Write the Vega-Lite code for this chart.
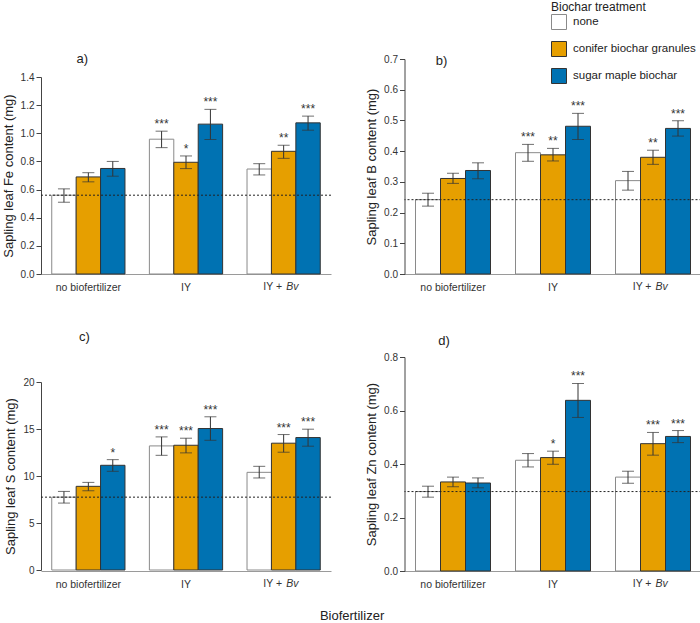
{
  "$schema": "https://vega.github.io/schema/vega-lite/v6.json",
  "padding": {"left": 2, "top": 2, "right": 0, "bottom": 1},
  "datasets": {
    "fe": [
      {"group": "no biofertilizer", "treatment": "none", "value": 0.56, "lo": 0.51, "hi": 0.605, "sig": ""},
      {"group": "no biofertilizer", "treatment": "conifer biochar granules", "value": 0.69, "lo": 0.655, "hi": 0.72, "sig": ""},
      {"group": "no biofertilizer", "treatment": "sugar maple biochar", "value": 0.75, "lo": 0.695, "hi": 0.8, "sig": ""},
      {"group": "IY", "treatment": "none", "value": 0.958, "lo": 0.898, "hi": 1.015, "sig": "***"},
      {"group": "IY", "treatment": "conifer biochar granules", "value": 0.794, "lo": 0.749, "hi": 0.839, "sig": "*"},
      {"group": "IY", "treatment": "sugar maple biochar", "value": 1.065, "lo": 0.956, "hi": 1.17, "sig": "***"},
      {"group": "IY + Bv", "treatment": "none", "value": 0.746, "lo": 0.704, "hi": 0.784, "sig": ""},
      {"group": "IY + Bv", "treatment": "conifer biochar granules", "value": 0.872, "lo": 0.822, "hi": 0.915, "sig": "**"},
      {"group": "IY + Bv", "treatment": "sugar maple biochar", "value": 1.074, "lo": 1.022, "hi": 1.122, "sig": "***"}
    ],
    "b": [
      {"group": "no biofertilizer", "treatment": "none", "value": 0.242, "lo": 0.221, "hi": 0.263, "sig": ""},
      {"group": "no biofertilizer", "treatment": "conifer biochar granules", "value": 0.311, "lo": 0.295, "hi": 0.328, "sig": ""},
      {"group": "no biofertilizer", "treatment": "sugar maple biochar", "value": 0.337, "lo": 0.31, "hi": 0.362, "sig": ""},
      {"group": "IY", "treatment": "none", "value": 0.395, "lo": 0.367, "hi": 0.422, "sig": "***"},
      {"group": "IY", "treatment": "conifer biochar granules", "value": 0.388, "lo": 0.368, "hi": 0.409, "sig": "**"},
      {"group": "IY", "treatment": "sugar maple biochar", "value": 0.481, "lo": 0.438, "hi": 0.523, "sig": "***"},
      {"group": "IY + Bv", "treatment": "none", "value": 0.304, "lo": 0.273, "hi": 0.334, "sig": ""},
      {"group": "IY + Bv", "treatment": "conifer biochar granules", "value": 0.38, "lo": 0.357, "hi": 0.403, "sig": "**"},
      {"group": "IY + Bv", "treatment": "sugar maple biochar", "value": 0.474, "lo": 0.449, "hi": 0.499, "sig": "***"}
    ],
    "s": [
      {"group": "no biofertilizer", "treatment": "none", "value": 7.75, "lo": 7.12, "hi": 8.36, "sig": ""},
      {"group": "no biofertilizer", "treatment": "conifer biochar granules", "value": 8.9, "lo": 8.43, "hi": 9.32, "sig": ""},
      {"group": "no biofertilizer", "treatment": "sugar maple biochar", "value": 11.14, "lo": 10.5, "hi": 11.74, "sig": "*"},
      {"group": "IY", "treatment": "none", "value": 13.2, "lo": 12.2, "hi": 14.16, "sig": "***"},
      {"group": "IY", "treatment": "conifer biochar granules", "value": 13.27, "lo": 12.46, "hi": 14.02, "sig": "***"},
      {"group": "IY", "treatment": "sugar maple biochar", "value": 15.05, "lo": 13.8, "hi": 16.3, "sig": "***"},
      {"group": "IY + Bv", "treatment": "none", "value": 10.39, "lo": 9.79, "hi": 11.03, "sig": ""},
      {"group": "IY + Bv", "treatment": "conifer biochar granules", "value": 13.49, "lo": 12.53, "hi": 14.41, "sig": "***"},
      {"group": "IY + Bv", "treatment": "sugar maple biochar", "value": 14.09, "lo": 13.17, "hi": 14.98, "sig": "***"}
    ],
    "zn": [
      {"group": "no biofertilizer", "treatment": "none", "value": 0.297, "lo": 0.276, "hi": 0.317, "sig": ""},
      {"group": "no biofertilizer", "treatment": "conifer biochar granules", "value": 0.333, "lo": 0.315, "hi": 0.351, "sig": ""},
      {"group": "no biofertilizer", "treatment": "sugar maple biochar", "value": 0.329, "lo": 0.311, "hi": 0.348, "sig": ""},
      {"group": "IY", "treatment": "none", "value": 0.414, "lo": 0.389, "hi": 0.439, "sig": ""},
      {"group": "IY", "treatment": "conifer biochar granules", "value": 0.424, "lo": 0.399, "hi": 0.448, "sig": "*"},
      {"group": "IY", "treatment": "sugar maple biochar", "value": 0.638, "lo": 0.574, "hi": 0.701, "sig": "***"},
      {"group": "IY + Bv", "treatment": "none", "value": 0.351, "lo": 0.328, "hi": 0.373, "sig": ""},
      {"group": "IY + Bv", "treatment": "conifer biochar granules", "value": 0.476, "lo": 0.433, "hi": 0.518, "sig": "***"},
      {"group": "IY + Bv", "treatment": "sugar maple biochar", "value": 0.503, "lo": 0.48, "hi": 0.525, "sig": "***"}
    ],
    "xlab": [
      {"group": "IY + Bv", "first": "IY +", "second": "Bv"}
    ],
    "pa": [{"group": "no biofertilizer", "label": "a)"}],
    "pb": [{"group": "no biofertilizer", "label": "b)"}],
    "pc": [{"group": "no biofertilizer", "label": "c)"}],
    "pd": [{"group": "no biofertilizer", "label": "d)"}]
  },
  "title": {"text": "Biofertilizer", "orient": "bottom", "anchor": "middle", "fontSize": 13, "offset": 20},
  "columns": 2,
  "bounds": "flush",
  "align": "each",
  "spacing": {"row": 83, "column": 73.5},
  "concat": [
    {
      "width": 290, "height": 215,
      "data": {"name": "fe"},
      "layer": [
        {
          "mark": {"type": "bar", "strokeWidth": 1},
          "encoding": {
            "x": {"field": "group", "type": "nominal", "scale": {"domain": ["no biofertilizer", "IY", "IY + Bv"], "paddingInner": 0.25, "paddingOuter": 0.11}, "axis": {"title": null, "labelExpr": "datum.value == 'IY + Bv' ? '' : datum.value"}},
            "xOffset": {"field": "treatment", "type": "nominal", "scale": {"domain": ["none", "conifer biochar granules", "sugar maple biochar"], "paddingInner": 0, "paddingOuter": 0}},
            "y": {"field": "value", "type": "quantitative", "scale": {"domain": [0, 1.4], "range": [215, 18]}, "axis": {"title": "Sapling leaf Fe content (mg)", "values": [0, 0.2, 0.4, 0.6, 0.8, 1.0, 1.2, 1.4], "format": ".1f", "labelOverlap": false}},
            "color": {"field": "treatment", "type": "nominal", "title": "Biochar treatment", "scale": {"domain": ["none", "conifer biochar granules", "sugar maple biochar"], "range": ["#ffffff", "#e69f00", "#0072b2"]}, "legend": {"orient": "none", "legendX": 510, "legendY": -57}},
            "stroke": {"field": "treatment", "type": "nominal", "scale": {"domain": ["none", "conifer biochar granules", "sugar maple biochar"], "range": ["#8a8a8a", "#333333", "#333333"]}, "legend": null}
          }
        },
        {
          "mark": {"type": "rule", "color": "#333", "strokeWidth": 1},
          "encoding": {
            "x": {"field": "group", "type": "nominal"},
            "xOffset": {"field": "treatment", "type": "nominal"},
            "y": {"field": "lo", "type": "quantitative", "axis": {"title": "Sapling leaf Fe content (mg)", "values": [0, 0.2, 0.4, 0.6, 0.8, 1.0, 1.2, 1.4], "format": ".1f", "labelOverlap": false}},
            "y2": {"field": "hi"}
          }
        },
        {
          "mark": {"type": "tick", "color": "#333", "thickness": 1, "size": 12, "orient": "horizontal"},
          "encoding": {
            "x": {"field": "group", "type": "nominal"},
            "xOffset": {"field": "treatment", "type": "nominal"},
            "y": {"field": "lo", "type": "quantitative", "axis": {"title": "Sapling leaf Fe content (mg)", "values": [0, 0.2, 0.4, 0.6, 0.8, 1.0, 1.2, 1.4], "format": ".1f", "labelOverlap": false}}
          }
        },
        {
          "mark": {"type": "tick", "color": "#333", "thickness": 1, "size": 12, "orient": "horizontal"},
          "encoding": {
            "x": {"field": "group", "type": "nominal"},
            "xOffset": {"field": "treatment", "type": "nominal"},
            "y": {"field": "hi", "type": "quantitative", "axis": {"title": "Sapling leaf Fe content (mg)", "values": [0, 0.2, 0.4, 0.6, 0.8, 1.0, 1.2, 1.4], "format": ".1f", "labelOverlap": false}}
          }
        },
        {
          "mark": {"type": "text", "fontSize": 12, "color": "#333", "baseline": "alphabetic", "dy": -3},
          "encoding": {
            "x": {"field": "group", "type": "nominal"},
            "xOffset": {"field": "treatment", "type": "nominal"},
            "y": {"field": "hi", "type": "quantitative", "axis": {"title": "Sapling leaf Fe content (mg)", "values": [0, 0.2, 0.4, 0.6, 0.8, 1.0, 1.2, 1.4], "format": ".1f", "labelOverlap": false}},
            "text": {"field": "sig"}
          }
        },
        {
          "transform": [{"filter": "datum.group == 'no biofertilizer' && datum.treatment == 'none'"}],
          "mark": {"type": "rule", "color": "#222", "strokeDash": [2, 2], "strokeWidth": 1},
          "encoding": {"y": {"field": "value", "type": "quantitative", "axis": {"title": "Sapling leaf Fe content (mg)", "values": [0, 0.2, 0.4, 0.6, 0.8, 1.0, 1.2, 1.4], "format": ".1f", "labelOverlap": false}}}
        },
        {
          "data": {"name": "xlab"},
          "mark": {"type": "text", "align": "right", "baseline": "top", "dx": -1.5, "dy": 8, "fontSize": 10.5, "color": "#333"},
          "encoding": {"x": {"field": "group", "type": "nominal"}, "y": {"datum": 0, "axis": {"title": "Sapling leaf Fe content (mg)", "values": [0, 0.2, 0.4, 0.6, 0.8, 1.0, 1.2, 1.4], "format": ".1f", "labelOverlap": false}}, "text": {"field": "first"}}
        },
        {
          "data": {"name": "xlab"},
          "mark": {"type": "text", "align": "left", "baseline": "top", "dx": 2.5, "dy": 8, "fontSize": 10.5, "fontStyle": "italic", "color": "#333"},
          "encoding": {"x": {"field": "group", "type": "nominal"}, "y": {"datum": 0, "axis": {"title": "Sapling leaf Fe content (mg)", "values": [0, 0.2, 0.4, 0.6, 0.8, 1.0, 1.2, 1.4], "format": ".1f", "labelOverlap": false}}, "text": {"field": "second"}}
        },
        {
          "data": {"name": "pa"},
          "mark": {"type": "text", "align": "center", "baseline": "alphabetic", "dx": -6, "dy": -14, "fontSize": 13, "color": "#222"},
          "encoding": {"x": {"field": "group", "type": "nominal"}, "y": {"datum": 1.4, "axis": {"title": "Sapling leaf Fe content (mg)", "values": [0, 0.2, 0.4, 0.6, 0.8, 1.0, 1.2, 1.4], "format": ".1f", "labelOverlap": false}}, "text": {"field": "label"}}
        }
      ]
    },
    {
      "width": 297, "height": 215,
      "data": {"name": "b"},
      "layer": [
        {
          "mark": {"type": "bar", "strokeWidth": 1},
          "encoding": {
            "x": {"field": "group", "type": "nominal", "scale": {"domain": ["no biofertilizer", "IY", "IY + Bv"], "paddingInner": 0.25, "paddingOuter": 0.11}, "axis": {"title": null, "labelExpr": "datum.value == 'IY + Bv' ? '' : datum.value"}},
            "xOffset": {"field": "treatment", "type": "nominal", "scale": {"domain": ["none", "conifer biochar granules", "sugar maple biochar"], "paddingInner": 0, "paddingOuter": 0}},
            "y": {"field": "value", "type": "quantitative", "scale": {"domain": [0, 0.7], "range": [215, 0]}, "axis": {"title": "Sapling leaf B content (mg)", "values": [0, 0.1, 0.2, 0.3, 0.4, 0.5, 0.6, 0.7], "format": ".1f", "labelOverlap": false}},
            "color": {"field": "treatment", "type": "nominal", "title": "Biochar treatment", "scale": {"domain": ["none", "conifer biochar granules", "sugar maple biochar"], "range": ["#ffffff", "#e69f00", "#0072b2"]}, "legend": {"orient": "none", "legendX": 510, "legendY": -57}},
            "stroke": {"field": "treatment", "type": "nominal", "scale": {"domain": ["none", "conifer biochar granules", "sugar maple biochar"], "range": ["#8a8a8a", "#333333", "#333333"]}, "legend": null}
          }
        },
        {
          "mark": {"type": "rule", "color": "#333", "strokeWidth": 1},
          "encoding": {
            "x": {"field": "group", "type": "nominal"},
            "xOffset": {"field": "treatment", "type": "nominal"},
            "y": {"field": "lo", "type": "quantitative", "axis": {"title": "Sapling leaf B content (mg)", "values": [0, 0.1, 0.2, 0.3, 0.4, 0.5, 0.6, 0.7], "format": ".1f", "labelOverlap": false}},
            "y2": {"field": "hi"}
          }
        },
        {
          "mark": {"type": "tick", "color": "#333", "thickness": 1, "size": 12, "orient": "horizontal"},
          "encoding": {
            "x": {"field": "group", "type": "nominal"},
            "xOffset": {"field": "treatment", "type": "nominal"},
            "y": {"field": "lo", "type": "quantitative", "axis": {"title": "Sapling leaf B content (mg)", "values": [0, 0.1, 0.2, 0.3, 0.4, 0.5, 0.6, 0.7], "format": ".1f", "labelOverlap": false}}
          }
        },
        {
          "mark": {"type": "tick", "color": "#333", "thickness": 1, "size": 12, "orient": "horizontal"},
          "encoding": {
            "x": {"field": "group", "type": "nominal"},
            "xOffset": {"field": "treatment", "type": "nominal"},
            "y": {"field": "hi", "type": "quantitative", "axis": {"title": "Sapling leaf B content (mg)", "values": [0, 0.1, 0.2, 0.3, 0.4, 0.5, 0.6, 0.7], "format": ".1f", "labelOverlap": false}}
          }
        },
        {
          "mark": {"type": "text", "fontSize": 12, "color": "#333", "baseline": "alphabetic", "dy": -3},
          "encoding": {
            "x": {"field": "group", "type": "nominal"},
            "xOffset": {"field": "treatment", "type": "nominal"},
            "y": {"field": "hi", "type": "quantitative", "axis": {"title": "Sapling leaf B content (mg)", "values": [0, 0.1, 0.2, 0.3, 0.4, 0.5, 0.6, 0.7], "format": ".1f", "labelOverlap": false}},
            "text": {"field": "sig"}
          }
        },
        {
          "transform": [{"filter": "datum.group == 'no biofertilizer' && datum.treatment == 'none'"}],
          "mark": {"type": "rule", "color": "#222", "strokeDash": [2, 2], "strokeWidth": 1},
          "encoding": {"y": {"field": "value", "type": "quantitative", "axis": {"title": "Sapling leaf B content (mg)", "values": [0, 0.1, 0.2, 0.3, 0.4, 0.5, 0.6, 0.7], "format": ".1f", "labelOverlap": false}}}
        },
        {
          "data": {"name": "xlab"},
          "mark": {"type": "text", "align": "right", "baseline": "top", "dx": -1.5, "dy": 8, "fontSize": 10.5, "color": "#333"},
          "encoding": {"x": {"field": "group", "type": "nominal"}, "y": {"datum": 0, "axis": {"title": "Sapling leaf B content (mg)", "values": [0, 0.1, 0.2, 0.3, 0.4, 0.5, 0.6, 0.7], "format": ".1f", "labelOverlap": false}}, "text": {"field": "first"}}
        },
        {
          "data": {"name": "xlab"},
          "mark": {"type": "text", "align": "left", "baseline": "top", "dx": 2.5, "dy": 8, "fontSize": 10.5, "fontStyle": "italic", "color": "#333"},
          "encoding": {"x": {"field": "group", "type": "nominal"}, "y": {"datum": 0, "axis": {"title": "Sapling leaf B content (mg)", "values": [0, 0.1, 0.2, 0.3, 0.4, 0.5, 0.6, 0.7], "format": ".1f", "labelOverlap": false}}, "text": {"field": "second"}}
        },
        {
          "data": {"name": "pb"},
          "mark": {"type": "text", "align": "center", "baseline": "alphabetic", "dx": -11.5, "dy": 6, "fontSize": 13, "color": "#222"},
          "encoding": {"x": {"field": "group", "type": "nominal"}, "y": {"datum": 0.7, "axis": {"title": "Sapling leaf B content (mg)", "values": [0, 0.1, 0.2, 0.3, 0.4, 0.5, 0.6, 0.7], "format": ".1f", "labelOverlap": false}}, "text": {"field": "label"}}
        }
      ]
    },
    {
      "width": 290, "height": 214,
      "data": {"name": "s"},
      "layer": [
        {
          "mark": {"type": "bar", "strokeWidth": 1},
          "encoding": {
            "x": {"field": "group", "type": "nominal", "scale": {"domain": ["no biofertilizer", "IY", "IY + Bv"], "paddingInner": 0.25, "paddingOuter": 0.11}, "axis": {"title": null, "labelExpr": "datum.value == 'IY + Bv' ? '' : datum.value"}},
            "xOffset": {"field": "treatment", "type": "nominal", "scale": {"domain": ["none", "conifer biochar granules", "sugar maple biochar"], "paddingInner": 0, "paddingOuter": 0}},
            "y": {"field": "value", "type": "quantitative", "scale": {"domain": [0, 20], "range": [213, 25]}, "axis": {"title": "Sapling leaf S content (mg)", "values": [0, 5, 10, 15, 20], "format": "d", "labelOverlap": false}},
            "color": {"field": "treatment", "type": "nominal", "title": "Biochar treatment", "scale": {"domain": ["none", "conifer biochar granules", "sugar maple biochar"], "range": ["#ffffff", "#e69f00", "#0072b2"]}, "legend": {"orient": "none", "legendX": 510, "legendY": -57}},
            "stroke": {"field": "treatment", "type": "nominal", "scale": {"domain": ["none", "conifer biochar granules", "sugar maple biochar"], "range": ["#8a8a8a", "#333333", "#333333"]}, "legend": null}
          }
        },
        {
          "mark": {"type": "rule", "color": "#333", "strokeWidth": 1},
          "encoding": {
            "x": {"field": "group", "type": "nominal"},
            "xOffset": {"field": "treatment", "type": "nominal"},
            "y": {"field": "lo", "type": "quantitative", "axis": {"title": "Sapling leaf S content (mg)", "values": [0, 5, 10, 15, 20], "format": "d", "labelOverlap": false}},
            "y2": {"field": "hi"}
          }
        },
        {
          "mark": {"type": "tick", "color": "#333", "thickness": 1, "size": 12, "orient": "horizontal"},
          "encoding": {
            "x": {"field": "group", "type": "nominal"},
            "xOffset": {"field": "treatment", "type": "nominal"},
            "y": {"field": "lo", "type": "quantitative", "axis": {"title": "Sapling leaf S content (mg)", "values": [0, 5, 10, 15, 20], "format": "d", "labelOverlap": false}}
          }
        },
        {
          "mark": {"type": "tick", "color": "#333", "thickness": 1, "size": 12, "orient": "horizontal"},
          "encoding": {
            "x": {"field": "group", "type": "nominal"},
            "xOffset": {"field": "treatment", "type": "nominal"},
            "y": {"field": "hi", "type": "quantitative", "axis": {"title": "Sapling leaf S content (mg)", "values": [0, 5, 10, 15, 20], "format": "d", "labelOverlap": false}}
          }
        },
        {
          "mark": {"type": "text", "fontSize": 12, "color": "#333", "baseline": "alphabetic", "dy": -3},
          "encoding": {
            "x": {"field": "group", "type": "nominal"},
            "xOffset": {"field": "treatment", "type": "nominal"},
            "y": {"field": "hi", "type": "quantitative", "axis": {"title": "Sapling leaf S content (mg)", "values": [0, 5, 10, 15, 20], "format": "d", "labelOverlap": false}},
            "text": {"field": "sig"}
          }
        },
        {
          "transform": [{"filter": "datum.group == 'no biofertilizer' && datum.treatment == 'none'"}],
          "mark": {"type": "rule", "color": "#222", "strokeDash": [2, 2], "strokeWidth": 1},
          "encoding": {"y": {"field": "value", "type": "quantitative", "axis": {"title": "Sapling leaf S content (mg)", "values": [0, 5, 10, 15, 20], "format": "d", "labelOverlap": false}}}
        },
        {
          "data": {"name": "xlab"},
          "mark": {"type": "text", "align": "right", "baseline": "top", "dx": -1.5, "dy": 9, "fontSize": 10.5, "color": "#333"},
          "encoding": {"x": {"field": "group", "type": "nominal"}, "y": {"datum": 0, "axis": {"title": "Sapling leaf S content (mg)", "values": [0, 5, 10, 15, 20], "format": "d", "labelOverlap": false}}, "text": {"field": "first"}}
        },
        {
          "data": {"name": "xlab"},
          "mark": {"type": "text", "align": "left", "baseline": "top", "dx": 2.5, "dy": 9, "fontSize": 10.5, "fontStyle": "italic", "color": "#333"},
          "encoding": {"x": {"field": "group", "type": "nominal"}, "y": {"datum": 0, "axis": {"title": "Sapling leaf S content (mg)", "values": [0, 5, 10, 15, 20], "format": "d", "labelOverlap": false}}, "text": {"field": "second"}}
        },
        {
          "data": {"name": "pc"},
          "mark": {"type": "text", "align": "center", "baseline": "alphabetic", "dx": -4, "dy": -41, "fontSize": 13, "color": "#222"},
          "encoding": {"x": {"field": "group", "type": "nominal"}, "y": {"datum": 20, "axis": {"title": "Sapling leaf S content (mg)", "values": [0, 5, 10, 15, 20], "format": "d", "labelOverlap": false}}, "text": {"field": "label"}}
        }
      ]
    },
    {
      "width": 297, "height": 214,
      "data": {"name": "zn"},
      "layer": [
        {
          "mark": {"type": "bar", "strokeWidth": 1},
          "encoding": {
            "x": {"field": "group", "type": "nominal", "scale": {"domain": ["no biofertilizer", "IY", "IY + Bv"], "paddingInner": 0.25, "paddingOuter": 0.11}, "axis": {"title": null, "labelExpr": "datum.value == 'IY + Bv' ? '' : datum.value"}},
            "xOffset": {"field": "treatment", "type": "nominal", "scale": {"domain": ["none", "conifer biochar granules", "sugar maple biochar"], "paddingInner": 0, "paddingOuter": 0}},
            "y": {"field": "value", "type": "quantitative", "scale": {"domain": [0, 0.8], "range": [214, 0]}, "axis": {"title": "Sapling leaf Zn content (mg)", "values": [0, 0.2, 0.4, 0.6, 0.8], "format": ".1f", "labelOverlap": false}},
            "color": {"field": "treatment", "type": "nominal", "title": "Biochar treatment", "scale": {"domain": ["none", "conifer biochar granules", "sugar maple biochar"], "range": ["#ffffff", "#e69f00", "#0072b2"]}, "legend": {"orient": "none", "legendX": 510, "legendY": -57}},
            "stroke": {"field": "treatment", "type": "nominal", "scale": {"domain": ["none", "conifer biochar granules", "sugar maple biochar"], "range": ["#8a8a8a", "#333333", "#333333"]}, "legend": null}
          }
        },
        {
          "mark": {"type": "rule", "color": "#333", "strokeWidth": 1},
          "encoding": {
            "x": {"field": "group", "type": "nominal"},
            "xOffset": {"field": "treatment", "type": "nominal"},
            "y": {"field": "lo", "type": "quantitative", "axis": {"title": "Sapling leaf Zn content (mg)", "values": [0, 0.2, 0.4, 0.6, 0.8], "format": ".1f", "labelOverlap": false}},
            "y2": {"field": "hi"}
          }
        },
        {
          "mark": {"type": "tick", "color": "#333", "thickness": 1, "size": 12, "orient": "horizontal"},
          "encoding": {
            "x": {"field": "group", "type": "nominal"},
            "xOffset": {"field": "treatment", "type": "nominal"},
            "y": {"field": "lo", "type": "quantitative", "axis": {"title": "Sapling leaf Zn content (mg)", "values": [0, 0.2, 0.4, 0.6, 0.8], "format": ".1f", "labelOverlap": false}}
          }
        },
        {
          "mark": {"type": "tick", "color": "#333", "thickness": 1, "size": 12, "orient": "horizontal"},
          "encoding": {
            "x": {"field": "group", "type": "nominal"},
            "xOffset": {"field": "treatment", "type": "nominal"},
            "y": {"field": "hi", "type": "quantitative", "axis": {"title": "Sapling leaf Zn content (mg)", "values": [0, 0.2, 0.4, 0.6, 0.8], "format": ".1f", "labelOverlap": false}}
          }
        },
        {
          "mark": {"type": "text", "fontSize": 12, "color": "#333", "baseline": "alphabetic", "dy": -3},
          "encoding": {
            "x": {"field": "group", "type": "nominal"},
            "xOffset": {"field": "treatment", "type": "nominal"},
            "y": {"field": "hi", "type": "quantitative", "axis": {"title": "Sapling leaf Zn content (mg)", "values": [0, 0.2, 0.4, 0.6, 0.8], "format": ".1f", "labelOverlap": false}},
            "text": {"field": "sig"}
          }
        },
        {
          "transform": [{"filter": "datum.group == 'no biofertilizer' && datum.treatment == 'none'"}],
          "mark": {"type": "rule", "color": "#222", "strokeDash": [2, 2], "strokeWidth": 1},
          "encoding": {"y": {"field": "value", "type": "quantitative", "axis": {"title": "Sapling leaf Zn content (mg)", "values": [0, 0.2, 0.4, 0.6, 0.8], "format": ".1f", "labelOverlap": false}}}
        },
        {
          "data": {"name": "xlab"},
          "mark": {"type": "text", "align": "right", "baseline": "top", "dx": -1.5, "dy": 8, "fontSize": 10.5, "color": "#333"},
          "encoding": {"x": {"field": "group", "type": "nominal"}, "y": {"datum": 0, "axis": {"title": "Sapling leaf Zn content (mg)", "values": [0, 0.2, 0.4, 0.6, 0.8], "format": ".1f", "labelOverlap": false}}, "text": {"field": "first"}}
        },
        {
          "data": {"name": "xlab"},
          "mark": {"type": "text", "align": "left", "baseline": "top", "dx": 2.5, "dy": 8, "fontSize": 10.5, "fontStyle": "italic", "color": "#333"},
          "encoding": {"x": {"field": "group", "type": "nominal"}, "y": {"datum": 0, "axis": {"title": "Sapling leaf Zn content (mg)", "values": [0, 0.2, 0.4, 0.6, 0.8], "format": ".1f", "labelOverlap": false}}, "text": {"field": "second"}}
        },
        {
          "data": {"name": "pd"},
          "mark": {"type": "text", "align": "center", "baseline": "alphabetic", "dx": -9, "dy": -12, "fontSize": 13, "color": "#222"},
          "encoding": {"x": {"field": "group", "type": "nominal"}, "y": {"datum": 0.8, "axis": {"title": "Sapling leaf Zn content (mg)", "values": [0, 0.2, 0.4, 0.6, 0.8], "format": ".1f", "labelOverlap": false}}, "text": {"field": "label"}}
        }
      ]
    }
  ],
  "resolve": {"scale": {"y": "independent", "x": "independent", "xOffset": "independent"}},
  "config": {
    "font": "Liberation Sans",
    "view": {"stroke": null},
    "axis": {"grid": false, "labelFont": "Liberation Sans", "titleFont": "Liberation Sans", "titleFontWeight": "normal"},
    "axisX": {"ticks": false, "tickSize": 0, "domainColor": "#9a9a9a", "labelPadding": 8, "labelAngle": 0, "labelFontSize": 10.5, "labelColor": "#333"},
    "axisY": {"domainColor": "#444", "tickColor": "#444", "tickSize": 5, "labelPadding": 2, "labelFontSize": 10, "labelColor": "#333", "titleFontSize": 13, "titleColor": "#222", "titlePadding": 5},
    "title": {"font": "Liberation Sans", "fontSize": 13, "fontWeight": "normal", "color": "#222"},
    "legend": {"titleFont": "Liberation Sans", "titleFontSize": 12, "titleFontWeight": "normal", "titleColor": "#222", "labelFont": "Liberation Sans", "labelFontSize": 11.5, "labelColor": "#222", "symbolType": "square", "symbolSize": 225, "symbolStrokeColor": "#555", "symbolStrokeWidth": 1, "rowPadding": 7, "labelOffset": 6, "titlePadding": 0, "padding": 0}
  }
}
